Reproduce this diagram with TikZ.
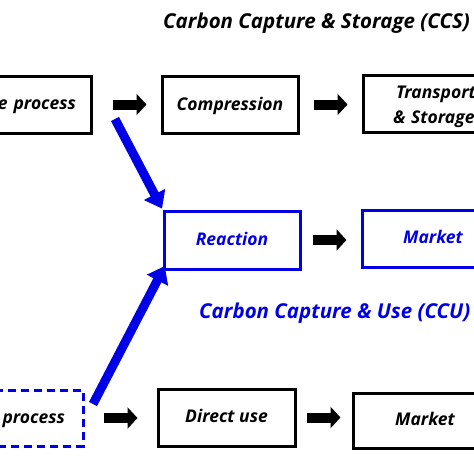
\documentclass[tikz,border=0pt]{standalone}
\usepackage{fontspec}
\setmainfont{Open Sans}
\usetikzlibrary{arrows.meta}
\definecolor{ccublue}{RGB}{0,0,230}
\tikzset{
  box/.style={draw=black, line width=3pt, rectangle, inner sep=0pt, text height=10pt, text depth=0pt, font=\bfseries\itshape\fontsize{17.5}{20}\selectfont},
  bluebox/.style={box, draw=ccublue, text=ccublue},
  dashbox/.style={box, draw=ccublue, dash pattern=on 8pt off 5pt},
  blk/.style={line width=10pt, black, -{Triangle[length=10pt,width=21pt]}},
  blu/.style={line width=9pt, ccublue, -{Triangle[length=16pt,width=23pt]}},
  ttl/.style={font=\bfseries\itshape\fontsize{20.5}{24}\selectfont, inner sep=0pt}
}
\begin{document}
\begin{tikzpicture}[x=1pt,y=-1pt]
\clip (0,0) rectangle (474,474);
\fill[white] (0,0) rectangle (474,474);
% titles
\node[ttl, anchor=west] (ccs) at (163,23) {Carbon Capture \& Storage (CCS)};
\node[ttl, anchor=west, text=ccublue] (ccu) at (199,313) {Carbon Capture \& Use (CCU)};
% top row
\node[box, minimum width=150pt, minimum height=57pt, text width=120pt, align=right] (src) at (16,104.5) {e process};
\node[box, minimum width=136pt, minimum height=57pt, text height=12pt] (comp) at (230,104.5) {Compression};
\node[box, minimum width=160pt, minimum height=57pt, text width=100pt, align=left, text height=10pt, text depth=21pt] (trans) at (443,103.5) {\hspace*{3pt}Transport\\[5pt]\& Storage};
% middle row
\node[bluebox, minimum width=136pt, minimum height=58pt] (react) at (232,240) {Reaction};
\node[bluebox, minimum width=142pt, minimum height=57pt] (mkt1) at (433,238.5) {Market};
% bottom row
\node[dashbox, minimum width=150pt, minimum height=56pt, text width=114pt, align=right] (src2) at (8,418) {process};
\node[box, minimum width=137pt, minimum height=57pt] (direct) at (226.5,417.5) {Direct use};
\node[box, minimum width=144pt, minimum height=55pt] (mkt2) at (425,420.5) {Market};
% black arrows
\draw[blk, shorten <=20pt, shorten >=14pt] (src.east) -- (src.east -| comp.west);
\draw[blk, shorten <=14pt, shorten >=14pt] (comp.east) -- (comp.east -| trans.west);
\draw[blk, shorten <=11pt, shorten >=14pt] (react.east) -- (react.east -| mkt1.west);
\draw[blk, shorten <=19pt, shorten >=19pt] (src2.east) -- (src2.east -| direct.west);
\draw[blk, shorten <=10pt, shorten >=11pt] (direct.east) -- (direct.east -| mkt2.west);
% blue arrows
\coordinate (t1) at (115,119);
\coordinate (t2) at (93,404);
\draw[blu, shorten >=1pt] (t1) -- (react.north west);
\draw[blu, shorten >=-5pt] (t2) -- (react.south west);
\end{tikzpicture}
\end{document}
